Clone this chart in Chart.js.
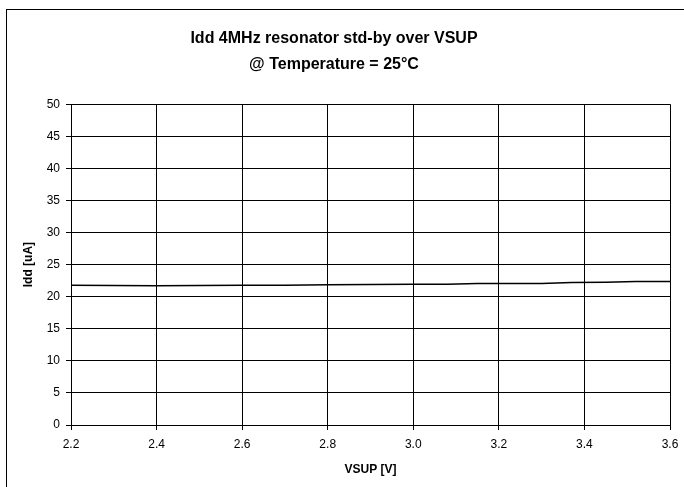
<!DOCTYPE html>
<html>
<head>
<meta charset="utf-8">
<script src="https://cdn.jsdelivr.net/npm/chart.js@4"></script>
<style>
  html, body { margin: 0; padding: 0; background: #fff; }
  canvas { display: block; }
</style>
</head>
<body>
<canvas id="chart_idd" width="684" height="487"></canvas>
<script>
// Supply voltage (V) and measured standby current (uA)
const vsup = [2.2, 2.3, 2.4, 2.5, 2.6, 2.7, 2.8, 2.9, 3.0, 3.08, 3.15, 3.3, 3.37, 3.45, 3.52, 3.6];
const idd = [21.8, 21.75, 21.7, 21.75, 21.8, 21.8, 21.85, 21.9, 21.95, 21.95, 22.05, 22.05, 22.2, 22.25, 22.35, 22.35];

const titleLines = ['Idd 4MHz resonator std-by over VSUP', '@ Temperature = 25°C'];
const xTitle = 'VSUP [V]';
const yTitle = 'Idd [uA]';

const fontFamily = '"Liberation Sans", Arial, sans-serif';

// Outer frame around the whole chart, title centred a little left of the plot
const framePlugin = {
  id: 'frame',
  afterLayout(chart) {
    if (chart.titleBlock) {
      chart.titleBlock.left = 10;
      chart.titleBlock.right = 658;
    }
  },
  afterDraw(chart) {
    const ctx = chart.ctx;
    ctx.save();
    ctx.strokeStyle = '#000';
    ctx.lineWidth = 1;
    ctx.strokeRect(6.5, 9.5, 720, 520);
    ctx.restore();
  }
};

new Chart(document.getElementById('chart_idd'), {
  type: 'scatter',
  data: {
    datasets: [{
      label: 'Idd',
      data: vsup.map((v, i) => ({ x: v, y: idd[i] })),
      showLine: true,
      borderColor: '#000',
      borderWidth: 1.5,
      pointRadius: 0,
      tension: 0,
    }],
  },
  options: {
    responsive: false,
    animation: false,
    layout: { padding: { left: 10, right: 14, top: 0, bottom: 10 } },
    plugins: {
      legend: { display: false },
      tooltip: { enabled: false },
      title: {
        display: true,
        text: titleLines,
        color: '#000',
        font: { family: fontFamily, size: 16, weight: 'bold', lineHeight: 1.6 },
        padding: { top: 26, bottom: 27 },
      },
    },
    scales: {
      x: {
        type: 'linear',
        min: 2.2,
        max: 3.6,
        ticks: {
          stepSize: 0.2,
          color: '#000',
          font: { family: fontFamily, size: 12 },
          padding: 7,
          maxRotation: 0,
        },
        grid: { color: '#000', lineWidth: 1, tickLength: 5 },
        border: { color: '#000', width: 1 },
        title: {
          display: true,
          text: xTitle,
          color: '#000',
          font: { family: fontFamily, size: 12, weight: 'bold' },
          padding: { top: 2, bottom: 0 },
        },
        afterFit(scale) {
          scale.height = 52;
          scale.paddingRight = 0;
        },
      },
      y: {
        min: 0,
        max: 50,
        ticks: {
          stepSize: 5,
          color: '#000',
          font: { family: fontFamily, size: 12 },
          padding: 6,
        },
        grid: { color: '#000', lineWidth: 1, tickLength: 5 },
        border: { color: '#000', width: 1 },
        title: {
          display: true,
          text: yTitle,
          color: '#000',
          font: { family: fontFamily, size: 12, weight: 'bold' },
          padding: { top: 11, bottom: 0 },
        },
        afterFit(scale) { scale.width = 61; },
      },
    },
  },
  plugins: [framePlugin],
});
</script>
</body>
</html>
